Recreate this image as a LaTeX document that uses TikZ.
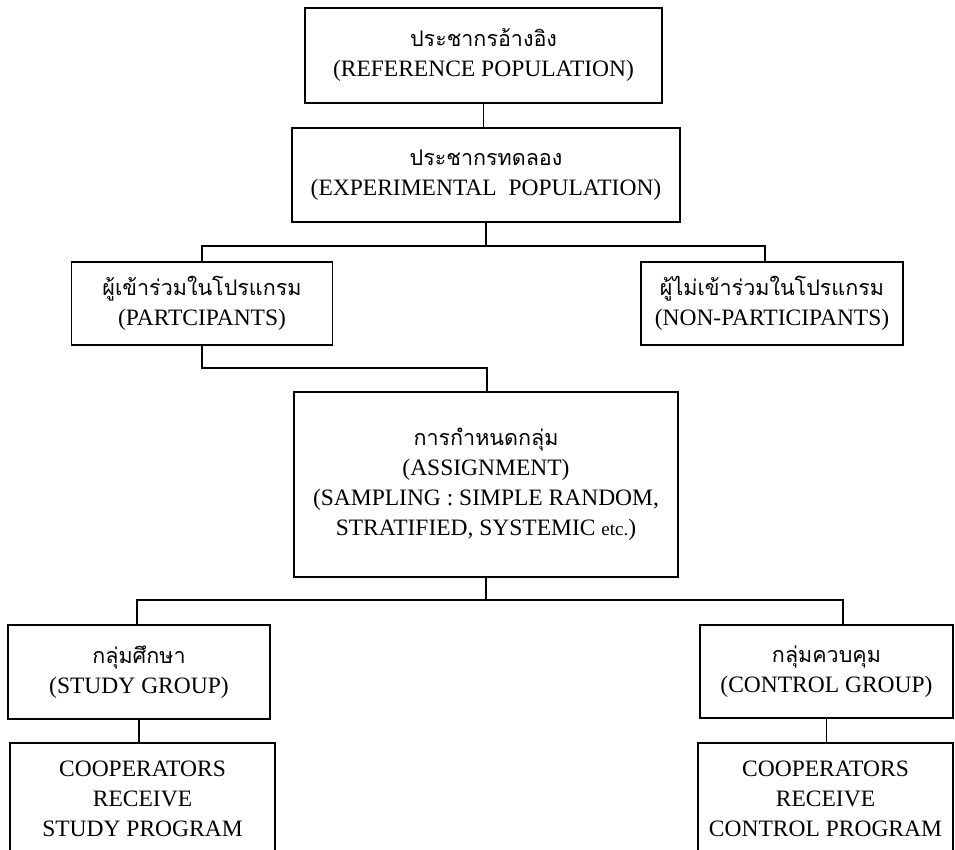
\documentclass[tikz,border=0pt]{standalone}
\usepackage{fontspec}
\setmainfont{Liberation Serif}
\newfontfamily\thaifont[Script=Thai]{Loma}
\usepackage{tikz}

\newcommand{\thtext}[1]{{\thaifont\fontsize{21.5}{30}\selectfont #1}}

\begin{document}
\begin{tikzpicture}[x=1pt, y=-1pt,
    box/.style={draw, line width=1.8pt, align=center, inner sep=0pt,
        font=\fontsize{23.5}{30}\selectfont},
    link/.style={draw, line width=1.4pt}]
    \useasboundingbox (0,0) rectangle (955,849);

    % Boxes {ref, expt, part, nonpart, assign, study, control, coop}
    \node [box, minimum width=357pt, minimum height=95pt]   (ref)      at (483.5,55.5)  {\thtext{ประชากรอ้างอิง}\\(REFERENCE POPULATION)};
    \node [box, minimum width=388pt, minimum height=94pt]   (expt)     at (486,175)     {\thtext{ประชากรทดลอง}\\(EXPERIMENTAL\ \ POPULATION)};
    \node [box, minimum width=261pt, minimum height=83pt]   (part)     at (202,303.5)   {\thtext{ผู้เข้าร่วมในโปรแกรม}\\(PARTCIPANTS)};
    \node [box, minimum width=262pt, minimum height=83pt]   (nonpart)  at (772,303.5)   {\thtext{ผู้ไม่เข้าร่วมในโปรแกรม}\\(NON-PARTICIPANTS)};
    \node [box, minimum width=384pt, minimum height=185pt]  (assign)   at (486,484.5)   {\thtext{การกำหนดกลุ่ม}\\(ASSIGNMENT)\\(SAMPLING : SIMPLE RANDOM,\\STRATIFIED, SYSTEMIC {\fontsize{19}{30}\selectfont etc.})};
    \node [box, minimum width=262pt, minimum height=94pt]   (study)    at (139,672)     {\thtext{กลุ่มศึกษา}\\(STUDY GROUP)};
    \node [box, minimum width=253pt, minimum height=93pt]   (control)  at (826.5,671.5) {\thtext{กลุ่มควบคุม}\\(CONTROL GROUP)};
    \node [box, minimum width=265pt, minimum height=112pt]  (coopst)   at (142.5,799)   {COOPERATORS\\RECEIVE\\STUDY PROGRAM};
    \node [box, minimum width=255pt, minimum height=112pt]  (coopct)   at (825.5,799)   {COOPERATORS\\RECEIVE\\CONTROL PROGRAM};

    % Junctions
    \coordinate (j1) at (486,246);
    \coordinate (j2) at (487,368);
    \coordinate (j3) at (486,600);

    % Paths
    \path [link] (ref.south) -- (ref.south |- expt.north);
    \path [link] (expt.south) -- (j1);
    \path [link] (part.north) |- (j1) -| ([xshift=-7pt]nonpart.north);
    \path [link] (part.south) |- (j2) -- (j2 |- assign.north);
    \path [link] (assign.south) -- (j3);
    \path [link] ([xshift=-2pt]study.north) |- (j3) -| ([xshift=16.5pt]control.north);
    \path [link] (study.south) -- (study.south |- coopst.north);
    \path [link] (control.south) -- (control.south |- coopct.north);

\end{tikzpicture}
\end{document}
